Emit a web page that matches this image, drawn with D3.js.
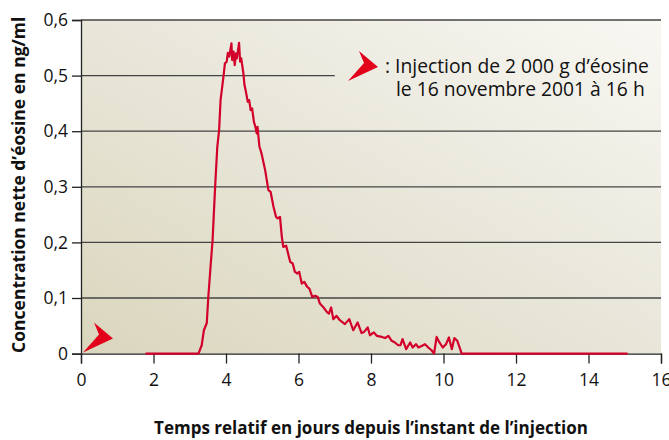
<!DOCTYPE html>
<html>
<head>
<meta charset="utf-8">
<script src="https://cdn.jsdelivr.net/npm/d3@7"></script>
<style>
  body { margin: 0; background: #fff; }
  text { font-family: "Open Sans", "Noto Sans", sans-serif; }
</style>
</head>
<body>
<div id="chart"></div>
<script>
var width = 669;
var height = 440;

// time in days since injection
var days = [1.78, 3.24, 3.33, 3.39, 3.47, 3.51, 3.58, 3.63, 3.70, 3.76, 3.81, 3.85, 3.93, 3.97,
  4.02, 4.05, 4.09, 4.15, 4.17, 4.21, 4.24, 4.28, 4.30, 4.36, 4.39, 4.42, 4.48, 4.51, 4.54,
  4.60, 4.64, 4.68, 4.72, 4.77, 4.81, 4.85, 4.87, 4.92, 4.98, 5.08, 5.17, 5.23, 5.31, 5.38,
  5.43, 5.49, 5.54, 5.58, 5.66, 5.77, 5.84, 5.90, 5.97, 6.02, 6.09, 6.16, 6.24, 6.30, 6.38,
  6.46, 6.53, 6.59, 6.68, 6.78, 6.84, 6.90, 6.96, 7.05, 7.14, 7.28, 7.40, 7.51, 7.63, 7.74,
  7.81, 7.91, 7.97, 8.08, 8.16, 8.30, 8.39, 8.48, 8.57, 8.66, 8.75, 8.81, 8.87, 8.97, 9.08,
  9.15, 9.24, 9.31, 9.41, 9.49, 9.58, 9.67, 9.74, 9.81, 9.88, 9.98, 10.07, 10.15, 10.23,
  10.30, 10.38, 10.46, 10.50, 15.08];
// net eosin concentration in ng/ml
var conc = [0, 0, 0.015, 0.042, 0.055, 0.100, 0.162, 0.204, 0.300, 0.372, 0.402, 0.456, 0.498, 0.522,
  0.525, 0.541, 0.534, 0.558, 0.528, 0.543, 0.519, 0.540, 0.531, 0.559, 0.525, 0.531, 0.504, 0.483, 0.474,
  0.453, 0.456, 0.438, 0.441, 0.417, 0.408, 0.396, 0.408, 0.373, 0.360, 0.330, 0.294, 0.291, 0.264, 0.246,
  0.243, 0.246, 0.210, 0.192, 0.194, 0.165, 0.162, 0.147, 0.144, 0.147, 0.126, 0.129, 0.120, 0.117, 0.102,
  0.104, 0.102, 0.090, 0.084, 0.075, 0.072, 0.083, 0.062, 0.068, 0.060, 0.053, 0.062, 0.042, 0.056, 0.037,
  0.039, 0.047, 0.033, 0.038, 0.032, 0.030, 0.028, 0.032, 0.023, 0.020, 0.015, 0.015, 0.026, 0.008, 0.020,
  0.011, 0.017, 0.011, 0.014, 0.017, 0.011, 0.006, 0, 0.030, 0.021, 0.011, 0.017, 0.029, 0.008,
  0.028, 0.023, 0.008, 0, 0];

var xTicks = [0, 2, 4, 6, 8, 10, 12, 14, 16];
var yTicks = [0, 0.1, 0.2, 0.3, 0.4, 0.5, 0.6];

var legendLines = [": Injection de 2 000 g d\u2019éosine", "le 16 novembre 2001 à 16 h"];

var plotL = 81, plotR = 661, plotT = 20, plotB = 353.6;

var x = d3.scaleLinear().domain([0, 16]).range([plotL, plotR]);
var y = d3.scaleLinear().domain([0, 0.6]).range([plotB, plotT]);

var svg = d3.select("#chart")
  .append("svg")
  .attr("width", width)
  .attr("height", height);

var grad = svg.append("defs").append("linearGradient")
  .attr("id", "bg")
  .attr("x1", "0%").attr("y1", "100%")
  .attr("x2", "100%").attr("y2", "0%");
grad.append("stop").attr("offset", "0%").attr("stop-color", "#dad6bd");
grad.append("stop").attr("offset", "55%").attr("stop-color", "#eae8dc");
grad.append("stop").attr("offset", "100%").attr("stop-color", "#f8f7f2");

svg.append("rect")
  .attr("x", plotL)
  .attr("y", plotT)
  .attr("width", plotR - plotL)
  .attr("height", plotB - plotT)
  .attr("fill", "url(#bg)");

// horizontal grid lines (0,5 stops before the legend)
svg.append("g")
  .selectAll("line")
  .data(yTicks.filter(function(d) { return d > 0; }))
  .enter()
  .append("line")
  .attr("x1", plotL)
  .attr("x2", function(d) { return d === 0.5 ? x(7) : plotR; })
  .attr("y1", function(d) { return y(d); })
  .attr("y2", function(d) { return y(d); })
  .attr("stroke", "#444")
  .attr("stroke-width", 1.3);

var fmt = function(d) { return d3.format(".1f")(d).replace(".", ","); };

var yAxis = svg.append("g")
  .attr("transform", "translate(" + plotL + ",0)")
  .call(d3.axisLeft(y).tickValues(yTicks).tickFormat(function(d) { return d === 0 ? "0" : fmt(d); })
    .tickSize(9).tickPadding(4));

var xAxis = svg.append("g")
  .attr("transform", "translate(0," + plotB + ")")
  .call(d3.axisBottom(x).tickValues(xTicks).tickSize(10).tickPadding(10));

[xAxis, yAxis].forEach(function(ax) {
  ax.select(".domain").attr("stroke", "#222").attr("stroke-width", 1.3);
  ax.selectAll(".tick line").attr("stroke", "#222").attr("stroke-width", 1.3);
  ax.selectAll(".tick text")
    .attr("fill", "#111")
    .style("font-family", "'Open Sans', 'Noto Sans', sans-serif")
    .style("font-size", "17.5px");
});

// concentration curve
var pts = days.map(function(d, i) { return [d, conc[i]]; });
var line = d3.line()
  .x(function(d) { return x(d[0]); })
  .y(function(d) { return y(d[1]); });

svg.append("path")
  .datum(pts)
  .attr("d", line)
  .attr("fill", "none")
  .attr("stroke", "#d2002a")
  .attr("stroke-width", 2.2)
  .attr("stroke-linejoin", "round");

// arrowhead marking the injection
var arrow = "M30,-14 L11,-30 L16,-18 L0,0 Z";
svg.append("path")
  .attr("d", arrow)
  .attr("transform", "translate(" + (x(0) + 2) + "," + (y(0) - 1) + ")")
  .attr("fill", "#e2001a");

svg.append("path")
  .attr("d", arrow)
  .attr("transform", "translate(348,81)")
  .attr("fill", "#e2001a");

svg.append("g")
  .selectAll("text")
  .data(legendLines)
  .enter()
  .append("text")
  .attr("x", function(d, i) { return i === 0 ? 385 : 396; })
  .attr("y", function(d, i) { return 73 + i * 23; })
  .attr("fill", "#111")
  .style("font-size", "19.3px")
  .text(function(d) { return d; });

// axis titles
svg.append("text")
  .attr("x", 371)
  .attr("y", 434)
  .attr("text-anchor", "middle")
  .attr("fill", "#111")
  .style("font-size", "17px")
  .style("font-weight", "bold")
  .text("Temps relatif en jours depuis l\u2019instant de l\u2019injection");

svg.append("text")
  .attr("transform", "translate(25," + ((plotT + plotB) / 2 - 2) + ") rotate(-90)")
  .attr("text-anchor", "middle")
  .attr("fill", "#111")
  .style("font-size", "17.5px")
  .style("font-weight", "bold")
  .text("Concentration nette d\u2019éosine en ng/ml");
</script>
</body>
</html>
